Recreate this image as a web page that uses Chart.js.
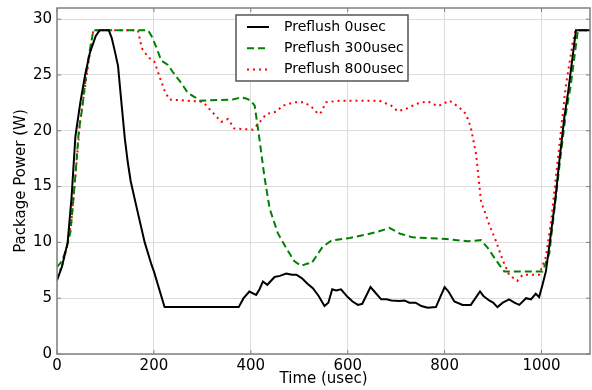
<!DOCTYPE html>
<html>
<head>
<meta charset="utf-8">
<script src="https://cdn.jsdelivr.net/npm/chart.js@4.4.1/dist/chart.umd.min.js"></script>
<style>
  html, body { margin: 0; padding: 0; background: #fff; }
  #wrap { width: 592px; height: 390px; }
</style>
</head>
<body>
<div id="wrap"><canvas id="chart"></canvas></div>
<script>
// --- data (time in usec, power in W) ---
const seriesNames = ['Preflush 0usec', 'Preflush 300usec', 'Preflush 800usec'];

const time0 = [0, 10, 22, 30, 38, 48, 58, 68, 80, 88, 107, 113, 120, 126, 133, 140, 146, 152, 165, 181, 195, 200, 222,
  375, 385, 397, 411, 418, 425, 434, 449, 460, 473, 485, 494, 505, 517, 528, 540, 552, 560, 568, 576, 586, 600, 610,
  621, 630, 647, 655, 669, 680, 690, 707, 717, 727, 740, 752, 765, 782, 790, 800, 808, 820, 837, 854, 865, 873, 880,
  892, 900, 909, 920, 933, 944, 954, 968, 978, 988, 995, 1002, 1009, 1017, 1028, 1036, 1047, 1055, 1071, 1100];
const power0 = [6.6, 7.8, 10, 14, 19.5, 22.5, 25, 27, 28.5, 29, 29, 28.3, 27, 25.8, 22.5, 19.3, 17.2, 15.5, 13, 10, 8, 7.4, 4.2,
  4.2, 5, 5.6, 5.3, 5.8, 6.5, 6.2, 6.9, 7, 7.2, 7.1, 7.1, 6.8, 6.3, 5.9, 5.2, 4.3, 4.6, 5.8, 5.7, 5.8, 5.1, 4.7,
  4.4, 4.5, 6, 5.6, 4.9, 4.9, 4.8, 4.75, 4.8, 4.6, 4.6, 4.3, 4.15, 4.2, 5, 6, 5.6, 4.7, 4.4, 4.4, 5.1, 5.6, 5.2,
  4.8, 4.6, 4.2, 4.6, 4.9, 4.6, 4.4, 5, 4.9, 5.4, 5.1, 6.2, 7.4, 10, 13.7, 17, 21.2, 23.5, 29, 29];

const time300 = [0, 10, 20, 28, 38, 45, 52, 60, 66, 75, 188, 195, 205, 215, 229, 240, 256, 270, 285, 294, 363, 380, 390,
  400, 408, 418, 428, 439, 456, 473, 490, 504, 517, 525, 548, 566, 604, 638, 665, 686, 707, 734, 803, 848, 875, 889,
  906, 923, 1002, 1016, 1028, 1040, 1050, 1060, 1075, 1100];
const power300 = [7.8, 8.3, 9.5, 11, 16, 20, 22, 25, 26.8, 29, 29, 28.5, 27.5, 26.3, 25.9, 25.2, 24.3, 23.4, 23, 22.7, 22.8, 23, 22.9,
  22.7, 22.25, 19.2, 15.9, 13, 10.8, 9.5, 8.3, 7.9, 8.1, 8.1, 9.6, 10.15, 10.4, 10.7, 11, 11.3, 10.8, 10.45, 10.3, 10.1, 10.2, 9.5,
  8.4, 7.4, 7.4, 9, 13.5, 18, 21.5, 24, 29, 29];

const time800 = [0, 10, 20, 30, 40, 48, 58, 68, 75, 167, 175, 188, 201, 212, 222, 232, 301, 322, 339, 353, 366, 404, 418,
  432, 452, 466, 490, 511, 531, 538, 545, 555, 583, 665, 690, 703, 720, 741, 765, 786, 803, 810, 830, 844, 854, 865,
  875, 892, 906, 920, 933, 950, 961, 995, 1009, 1020, 1035, 1050, 1064, 1070, 1100];
const power800 = [7, 7.8, 9.5, 12, 17, 21, 24, 27, 29, 29, 27.4, 26.6, 26.2, 24.8, 23.6, 22.8, 22.6, 21.6, 20.8, 21.05, 20.2, 20.1, 20.75,
  21.5, 21.7, 22.25, 22.55, 22.55, 21.95, 21.5, 21.65, 22.55, 22.7, 22.7, 22.25, 21.75, 21.95, 22.4, 22.65, 22.2, 22.55, 22.7, 22.1, 21.5, 20.3, 17.9,
  13.7, 11.6, 10.1, 8.4, 7.1, 6.55, 7.1, 7.1, 8.7, 12, 18, 24, 27.8, 29, 29];

const xTicks = [0, 200, 400, 600, 800, 1000];
const yTicks = [0, 5, 10, 15, 20, 25, 30];

const lineColors = ['#000000', '#008000', '#ff0000'];
const lineDashes = [[], [7, 4], [2, 4]];

const toPoints = (ts, vs) => ts.map((t, i) => ({ x: t, y: vs[i] }));
const FONT = "'DejaVu Sans', sans-serif";

// frame, inward tick marks and legend box drawn on top, matplotlib style
const framePlugin = {
  id: 'frame',
  afterDraw(chart) {
    const { ctx, chartArea: a, scales } = chart;
    ctx.save();
    ctx.strokeStyle = '#808080';
    ctx.lineWidth = 1.5;
    ctx.strokeRect(a.left, a.top, a.right - a.left, a.bottom - a.top);

    // inward ticks
    ctx.lineWidth = 1;
    ctx.beginPath();
    xTicks.forEach(v => {
      const px = scales.x.getPixelForValue(v);
      ctx.moveTo(px, a.bottom); ctx.lineTo(px, a.bottom - 4);
      ctx.moveTo(px, a.top); ctx.lineTo(px, a.top + 4);
    });
    yTicks.forEach(v => {
      const py = scales.y.getPixelForValue(v);
      ctx.moveTo(a.left, py); ctx.lineTo(a.left + 4, py);
      ctx.moveTo(a.right, py); ctx.lineTo(a.right - 4, py);
    });
    ctx.stroke();

    // legend
    const lx = 236, ly = 15, lw = 172, lh = 66;
    ctx.fillStyle = '#fff';
    ctx.fillRect(lx, ly, lw, lh);
    ctx.strokeStyle = '#555';
    ctx.lineWidth = 1.5;
    ctx.strokeRect(lx, ly, lw, lh);
    ctx.font = '14px ' + FONT;
    ctx.textBaseline = 'middle';
    seriesNames.forEach((name, i) => {
      const y = 27 + i * 21.3;
      ctx.strokeStyle = lineColors[i];
      ctx.lineWidth = 2;
      ctx.setLineDash(lineDashes[i]);
      ctx.beginPath();
      ctx.moveTo(247, y);
      ctx.lineTo(269, y);
      ctx.stroke();
      ctx.setLineDash([]);
      ctx.fillStyle = '#000';
      ctx.fillText(name, 284, y);
    });
    ctx.restore();
  }
};

new Chart(document.getElementById('chart'), {
  type: 'line',
  data: {
    datasets: [
      { label: seriesNames[0], data: toPoints(time0, power0) },
      { label: seriesNames[1], data: toPoints(time300, power300) },
      { label: seriesNames[2], data: toPoints(time800, power800) }
    ].map((ds, i) => Object.assign(ds, {
      borderColor: lineColors[i],
      borderDash: lineDashes[i],
      borderWidth: 2,
      pointRadius: 0,
      tension: 0,
      fill: false
    }))
  },
  options: {
    responsive: true,
    maintainAspectRatio: false,
    animation: false,
    layout: { padding: { left: 0, top: 8, right: 2, bottom: 0 } },
    plugins: { legend: { display: false }, tooltip: { enabled: false } },
    scales: {
      x: {
        type: 'linear',
        min: 0,
        max: 1100,
        afterBuildTicks: s => { s.ticks = xTicks.map(v => ({ value: v })); },
        afterFit: s => { s.height = 36; s.paddingLeft = 0; s.paddingRight = 0; },
        grid: { color: '#dcdcdc', lineWidth: 1, drawTicks: false },
        border: { display: false },
        ticks: { color: '#000', font: { family: FONT, size: 15 }, padding: 3, maxRotation: 0, callback: v => String(v) },
        title: { display: true, text: 'Time (usec)', color: '#000', font: { family: FONT, size: 15 }, padding: { top: 0, bottom: 2 } }
      },
      y: {
        min: 0,
        max: 31,
        afterBuildTicks: s => { s.ticks = yTicks.map(v => ({ value: v })); },
        afterFit: s => { s.width = 57; s.paddingTop = 0; s.paddingBottom = 0; },
        grid: { color: '#dcdcdc', lineWidth: 1, drawTicks: false },
        border: { display: false },
        ticks: { color: '#000', font: { family: FONT, size: 15 }, padding: 5, callback: v => String(v) },
        title: { display: true, text: 'Package Power (W)', color: '#000', font: { family: FONT, size: 15 }, padding: { top: 12, bottom: 0 } }
      }
    }
  },
  plugins: [framePlugin]
});
</script>
</body>
</html>
